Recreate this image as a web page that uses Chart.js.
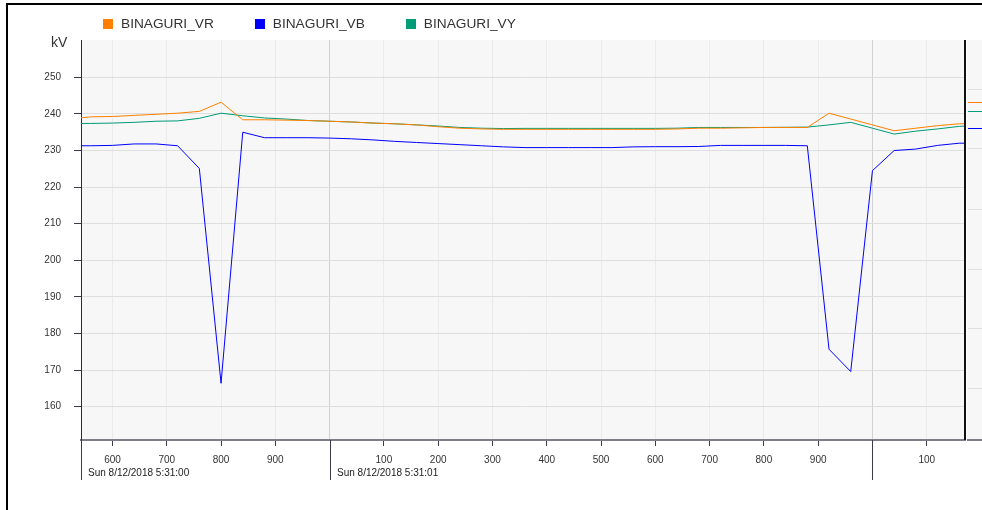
<!DOCTYPE html>
<html><head><meta charset="utf-8">
<script src="https://cdn.jsdelivr.net/npm/chart.js@4.4.1/dist/chart.umd.min.js"></script>
<style>
html,body{margin:0;padding:0;background:#fff;}
#wrap{position:relative;width:982px;height:510px;overflow:hidden;font-family:"Liberation Sans",Arial,sans-serif;}
#c{position:absolute;left:0;top:0;}
#frame{position:absolute;left:6px;top:3px;width:990px;height:520px;border-top:2px solid #000;border-left:2px solid #000;pointer-events:none;}
#legend{position:absolute;left:103px;top:16px;display:flex;gap:41px;font-size:13.7px;color:#333;line-height:15px;white-space:nowrap;}
.item{display:flex;align-items:center;}
.box{width:10px;height:10px;margin-right:8px;}
#unit{position:absolute;left:51px;top:34px;font-size:14px;line-height:16px;color:#333;}
</style></head>
<body><div id="wrap"><canvas id="c" width="982" height="510"></canvas><div id="frame"></div><div id="legend"></div><div id="unit">kV</div></div>
<script>
// time in ms after Sun 8/12/2018 5:31:00
const times = [520,560,600,640,680,720,760,800,840,880,920,960,1000,1040,1080,1120,1160,1200,1240,1280,1320,1360,1400,1440,1480,1520,1560,1600,1640,1680,1720,1760,1800,1840,1880,1920,1960,2000,2040,2080,2120,2160,2200];
const vr = [238.6,239.2,239.3,239.6,239.9,240.2,240.7,243.2,238.4,238.4,238.3,238.2,238.0,237.8,237.5,237.3,237.0,236.5,236.1,235.9,235.8,235.8,235.8,235.8,235.8,235.8,235.8,235.8,235.9,236.1,236.1,236.2,236.3,236.3,236.3,240.2,238.6,237.0,235.4,236.1,236.8,237.3,237.5];
const vb = [231.3,231.3,231.4,231.8,231.8,231.3,225.1,166.4,235.0,233.5,233.5,233.5,233.4,233.2,232.9,232.5,232.2,231.9,231.6,231.3,231.0,230.8,230.8,230.8,230.8,230.8,231.0,231.05,231.05,231.1,231.4,231.4,231.4,231.4,231.3,175.7,169.6,224.5,230.0,230.4,231.4,232.0,232.0];
const vy = [237.4,237.4,237.5,237.7,238.0,238.1,238.8,240.2,239.5,238.9,238.6,238.2,238.0,237.8,237.5,237.3,237.0,236.7,236.3,236.1,236.0,236.05,236.05,236.05,236.05,236.05,236.05,236.05,236.1,236.3,236.3,236.3,236.3,236.35,236.4,237.0,237.7,236.1,234.5,235.3,235.9,236.6,236.9];
const seriesNames = ['BINAGURI_VR','BINAGURI_VB','BINAGURI_VY'];
const seriesColors = ['#FF8000','#0000FF','#009B77'];
const xTickValues = [600,700,800,900,1000,1100,1200,1300,1400,1500,1600,1700,1800,1900,2000,2100];
const yTickValues = [160,170,180,190,200,210,220,230,240,250];
const dateLabels = ['Sun 8/12/2018 5:31:00','Sun 8/12/2018 5:31:01','Sun 8/12/2018 5:31:02'];
// right-hand side panel markers, one per series (VR, VB, VY)
const sideMarkers = [243.3,236.2,240.8];
const sideGrid = [246.8,230.7,214.0,197.6,181.5,165.1];
const X_MIN = 542, X_MAX = 2170.5, Y_MIN = 150.9, Y_MAX = 260.2;

const toPts = arr => arr.map((v,i)=>({x:times[i], y:v}));
const series = [vr, vb, vy];

const decor = {
  id:'decor',
  beforeDraw(chart){
    const {ctx, chartArea:a} = chart;
    ctx.save();
    ctx.fillStyle = '#f7f7f7';
    ctx.fillRect(a.left, a.top, a.right-a.left, a.bottom-a.top);
    ctx.restore();
  },
  afterDraw(chart){
    const {ctx, chartArea:a, scales:{x, y}} = chart;
    ctx.save();
    const pl = a.right + 2, pr = chart.width;
    ctx.fillStyle = '#f7f7f7';
    ctx.fillRect(pl, a.top, pr-pl, a.bottom-a.top);
    ctx.lineWidth = 1;
    ctx.strokeStyle = '#e0e0e0';
    sideGrid.forEach(v=>{
      const py = Math.round(y.getPixelForValue(v))+0.5;
      ctx.beginPath(); ctx.moveTo(pl+1, py); ctx.lineTo(pr, py); ctx.stroke();
    });
    sideMarkers.forEach((v,i)=>{
      const py = Math.round(y.getPixelForValue(v))+0.5;
      ctx.strokeStyle = seriesColors[i];
      ctx.beginPath(); ctx.moveTo(pl+1, py); ctx.lineTo(pr, py); ctx.stroke();
    });
    ctx.fillStyle = '#7d7d8a';
    ctx.fillRect(pl, a.bottom-1, pr-pl, 2);
    ctx.fillStyle = '#111';
    ctx.fillRect(a.right-1, a.top, 2, a.bottom-a.top);
    // second boundaries
    ctx.strokeStyle = '#3a3a4a';
    ctx.beginPath(); ctx.moveTo(a.left+0.5, a.bottom); ctx.lineTo(a.left+0.5, a.bottom+40); ctx.stroke();
    ctx.font = '10px "Liberation Sans", Arial, sans-serif';
    ctx.fillStyle = '#222';
    ctx.textBaseline = 'middle';
    ctx.textAlign = 'left';
    for (let k = Math.floor(X_MIN/1000); k <= Math.floor(X_MAX/1000); k++){
      const b = k*1000;
      let px = x.getPixelForValue(b);
      if (b > X_MIN){
        const lx = Math.round(px)+0.5;
        ctx.beginPath(); ctx.moveTo(lx, a.bottom); ctx.lineTo(lx, a.bottom+40); ctx.stroke();
      }
      px = Math.max(px, a.left);
      const w = ctx.measureText(dateLabels[k]).width;
      if (px + 7 + w <= a.right) ctx.fillText(dateLabels[k], Math.round(px)+7, 473);
    }
    ctx.restore();
  }
};

const chart = new Chart(document.getElementById('c'), {
  type:'line',
  data:{
    datasets: series.map((s,i)=>({
      label: seriesNames[i],
      data: toPts(s),
      borderColor: seriesColors[i],
      backgroundColor: seriesColors[i],
      borderWidth: 1,
      pointRadius: 0,
      tension: 0,
      fill: false
    }))
  },
  options:{
    responsive:false,
    animation:false,
    layout:{padding:{left:0, top:40, right:17, bottom:0}},
    plugins:{legend:{display:false}, tooltip:{enabled:false}},
    scales:{
      x:{
        type:'linear', min:X_MIN, max:X_MAX,
        afterBuildTicks: s => { s.ticks = xTickValues.map(v=>({value:v})); },
        afterFit: s => { s.height = 70; },
        ticks:{
          autoSkip:false, maxRotation:0, padding:8, color:'#333',
          font:{family:'"Liberation Sans", Arial, sans-serif', size:10},
          callback: v => (v % 1000 === 0) ? '' : String(v % 1000)
        },
        grid:{
          color: c => (c.tick && c.tick.value % 1000 === 0) ? '#d2d2d2' : '#ebebeb',
          tickColor: c => (c.tick && c.tick.value % 1000 === 0) ? 'rgba(0,0,0,0)' : '#3a3a4a',
          tickLength:6, lineWidth:1
        },
        border:{color:'#7d7d8a', width:2}
      },
      y:{
        type:'linear', min:Y_MIN, max:Y_MAX,
        afterBuildTicks: s => { s.ticks = yTickValues.map(v=>({value:v})); },
        afterFit: s => { s.width = 81; },
        ticks:{
          padding:13, color:'#333',
          font:{family:'"Liberation Sans", Arial, sans-serif', size:10},
          callback: v => String(v)
        },
        grid:{color:'#dedede', tickColor:'#3a3a4a', tickLength:7, lineWidth:1},
        border:{color:'#2a2a3a', width:1}
      }
    }
  },
  plugins:[decor]
});

const lg = document.getElementById('legend');
chart.data.datasets.forEach(ds=>{
  const it = document.createElement('div'); it.className='item';
  const b = document.createElement('div'); b.className='box'; b.style.background = ds.borderColor;
  const t = document.createElement('span'); t.textContent = ds.label;
  it.appendChild(b); it.appendChild(t); lg.appendChild(it);
});
</script>
</body></html>
